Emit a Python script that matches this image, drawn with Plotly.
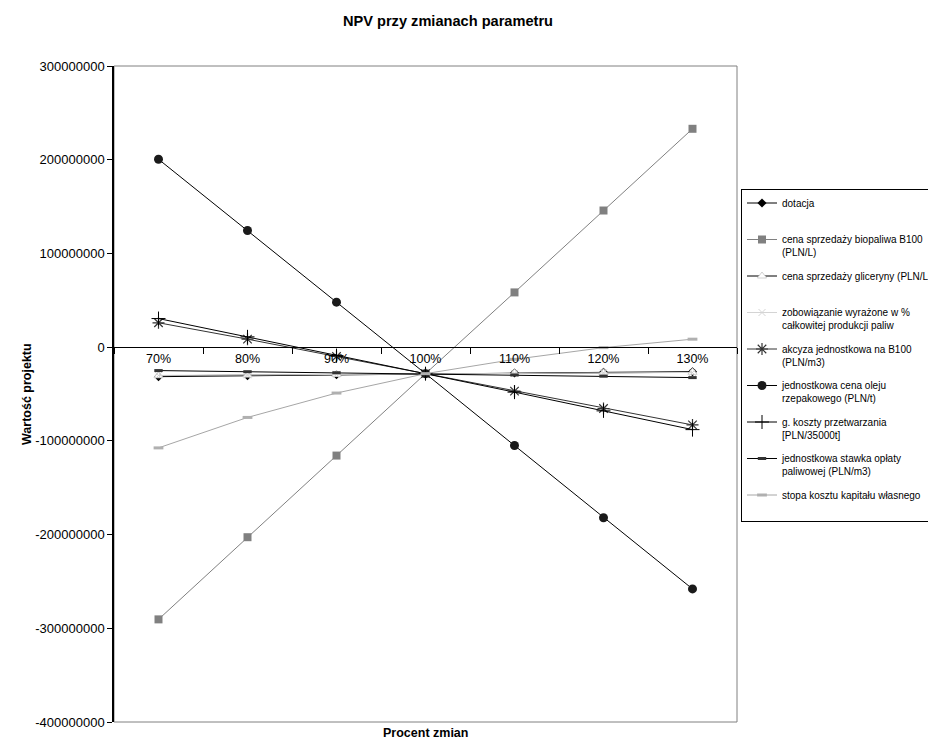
import plotly.graph_objects as go

categories = ['70%', '80%', '90%', '100%', '110%', '120%', '130%']

dotacja = [-31.5e6, -30.5e6, -29.5e6, -28.3e6, -27.6e6, -26.9e6, -26.2e6]
biopaliwa = [-290.5e6, -202.8e6, -115.7e6, -28.3e6, 58.4e6, 145.8e6, 233.0e6]
gliceryny = [-30.5e6, -29.8e6, -29.1e6, -28.3e6, -27.8e6, -27.3e6, -26.8e6]
zobowiazanie = [-30.2e6, -29.6e6, -29.0e6, -28.3e6, -27.9e6, -27.4e6, -27.0e6]
akcyza = [26.0e6, 8.5e6, -10.0e6, -28.3e6, -47.0e6, -65.5e6, -83.0e6]
olej = [200.5e6, 124.5e6, 48.0e6, -28.3e6, -105.0e6, -182.0e6, -258.0e6]
koszty = [30.5e6, 11.0e6, -9.0e6, -28.3e6, -48.0e6, -68.0e6, -88.0e6]
stawka = [-25.0e6, -26.2e6, -27.3e6, -28.3e6, -29.7e6, -31.0e6, -32.5e6]
stopa = [-107.5e6, -75.0e6, -49.0e6, -28.3e6, -13.0e6, -0.5e6, 8.5e6]

y_ticks = [300e6, 200e6, 100e6, 0, -100e6, -200e6, -300e6, -400e6]
y_tick_labels = ['300000000', '200000000', '100000000', '0', '-100000000',
                 '-200000000', '-300000000', '-400000000']

FONT = 'Liberation Sans, Arial, sans-serif'

series = [
    ('dotacja<br> ', dotacja, '#000000', dict(symbol='diamond', size=7, color='#000000')),
    ('cena sprzedaży biopaliwa B100<br>(PLN/L)', biopaliwa, '#808080',
     dict(symbol='square', size=8, color='#808080')),
    ('cena sprzedaży gliceryny (PLN/L)<br> ', gliceryny, '#000000',
     dict(symbol='triangle-up', size=8, color='#ffffff', line=dict(color='#d0d0d0', width=1))),
    ('zobowiązanie wyrażone w %<br>całkowitej produkcji paliw', zobowiazanie, '#d4d4d4',
     dict(symbol='x-thin-open', size=7, color='#d4d4d4', line=dict(color='#d4d4d4', width=1))),
    ('akcyza jednostkowa na B100<br>(PLN/m3)', akcyza, '#333333',
     dict(symbol='asterisk-open', size=10, color='#333333', line=dict(color='#333333', width=1.2))),
    ('jednostkowa cena oleju<br>rzepakowego (PLN/t)', olej, '#000000',
     dict(symbol='circle', size=9, color='#1a1a1a')),
    ('g. koszty przetwarzania<br>[PLN/35000t]', koszty, '#000000',
     dict(symbol='cross-thin-open', size=10, color='#000000', line=dict(color='#000000', width=1))),
    ('jednostkowa stawka opłaty<br>paliwowej (PLN/m3)', stawka, '#000000',
     dict(symbol='line-ew-open', size=6, color='#333333', line=dict(color='#333333', width=3))),
    ('stopa kosztu kapitału własnego<br> ', stopa, '#a6a6a6',
     dict(symbol='line-ew-open', size=7, color='#b0b0b0', line=dict(color='#b0b0b0', width=3))),
]

fig = go.Figure()
for i, (name, vals, col, mk) in enumerate(series):
    fig.add_trace(go.Scatter(
        x=categories, y=vals, name=name, mode='lines+markers',
        line=dict(color=col, width=1), marker=mk,
        legendgroup='g%d' % i,
    ))

# page body has an 8px margin, so the figure is sized/offset to compensate
OFF = 8
W, H = 936 - OFF, 739 - OFF
L, T = 114 - OFF, 66 - OFF
R = W - (737 - OFF)
B = H - (722 - OFF)
PW, PH = W - L - R, H - T - B

fig.update_layout(
    width=W, height=H,
    margin=dict(l=L, r=R, t=T, b=B, autoexpand=False),
    paper_bgcolor='white', plot_bgcolor='white',
    font=dict(family=FONT, color='#000000', size=12),
    showlegend=True,
    legend=dict(
        x=(741 - OFF - L) / PW, xanchor='left',
        y=1 - (189 - OFF - T) / PH, yanchor='top',
        bordercolor='#000000', borderwidth=1, bgcolor='white',
        font=dict(family=FONT, size=10, color='#000000'),
        valign='top', tracegroupgap=7.5, itemwidth=30,
    ),
    title=dict(text='<b>NPV przy zmianach parametru</b>', x=(448 - OFF) / W, xref='container',
               xanchor='center', y=1 - (21 - OFF) / H, yref='container', yanchor='middle',
               font=dict(family=FONT, size=14.6, color='#000000')),
    xaxis=dict(
        type='category', range=[-0.5, 6.5], anchor='free', position=4 / 7,
        showline=True, linecolor='#000000', linewidth=1,
        ticks='outside', ticklen=6, tickcolor='#000000', tickson='boundaries',
        showgrid=False, zeroline=False,
        tickfont=dict(family=FONT, size=12.5, color='#000000'),
    ),
    yaxis=dict(
        range=[-400e6, 300e6], tickvals=y_ticks, ticktext=y_tick_labels,
        showline=True, linecolor='#000000', linewidth=1.5,
        ticks='outside', ticklen=5, tickcolor='#000000',
        showgrid=False, zeroline=False,
        tickfont=dict(family=FONT, size=13, color='#000000'),
    ),
    shapes=[dict(type='rect', xref='paper', yref='paper', x0=0, x1=1, y0=0, y1=1,
                 line=dict(color='#808080', width=1), layer='below')],
    annotations=[
        dict(text='<b>Wartość projektu</b>', xref='paper', yref='paper',
             x=(27 - OFF - L) / PW, y=0.5, textangle=-90, showarrow=False,
             xanchor='center', yanchor='middle',
             font=dict(family=FONT, size=12.5, color='#000000')),
        dict(text='<b>Procent zmian</b>', xref='paper', yref='paper',
             x=0.5, y=-(732.5 - 722) / PH, showarrow=False,
             xanchor='center', yanchor='middle',
             font=dict(family=FONT, size=12.5, color='#000000')),
    ],
)

fig.write_html('out.html')
